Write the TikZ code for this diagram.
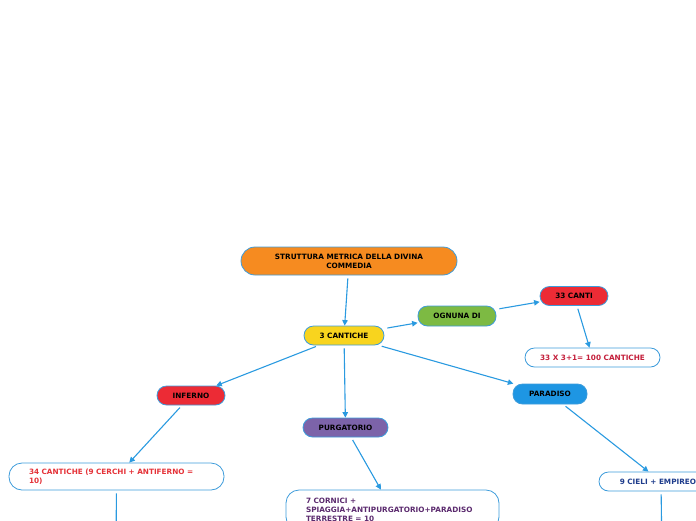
\documentclass[tikz,border=0pt]{standalone}
\usepackage{fontspec}
\setmainfont{DejaVu Sans}
\usetikzlibrary{arrows.meta}

\definecolor{bordoblu}{HTML}{3D9CDB}
\definecolor{lineablu}{HTML}{2A9AE0}
\definecolor{arancio}{HTML}{F68B20}
\definecolor{giallo}{HTML}{F8D41E}
\definecolor{verde}{HTML}{7DBA43}
\definecolor{rosso}{HTML}{EC2B35}
\definecolor{viola}{HTML}{7C63A9}
\definecolor{azzurro}{HTML}{1E96E3}
\definecolor{testocremisi}{HTML}{C41E3A}
\definecolor{testorosso}{HTML}{E53238}
\definecolor{testoviola}{HTML}{5B2A6E}
\definecolor{testoblu}{HTML}{1E3C8C}

\tikzset{
    pill/.style={draw=bordoblu, line width=0.8pt, inner sep=0pt, align=center,
        font=\fontsize{7.3}{9}\selectfont\bfseries, rounded corners=9.5pt,
        minimum height=19pt},
    note/.style={pill, fill=white, rounded corners=13pt},
    link/.style={draw=lineablu, line width=1.1pt, shorten <=3pt,
        -{Triangle[length=5.5pt,width=5.5pt]}},
}

\begin{document}
\begin{tikzpicture}[x=1pt,y=-1pt]
    \useasboundingbox (0,0) rectangle (696,520);
    \clip (0,0) rectangle (696,520);

    \node[pill, fill=arancio, minimum width=216pt, minimum height=28pt, rounded corners=14pt] (titolo) at (349,261) {STRUTTURA METRICA DELLA DIVINA\\COMMEDIA};
    \node[pill, fill=giallo, minimum width=80pt] (cantiche) at (344,335.5) {3 CANTICHE};
    \node[pill, fill=verde, minimum width=78pt, minimum height=20pt] (ognuna) at (457,316) {OGNUNA DI};
    \node[pill, fill=rosso, minimum width=68pt] (canti) at (574,296) {33 CANTI};
    \node[pill, fill=white, minimum width=135pt, text=testocremisi] (cento) at (592.5,357.5) {33 X 3+1= 100 CANTICHE};

    \node[pill, fill=rosso, minimum width=68pt] (inferno) at (191,395.5) {INFERNO};
    \node[pill, fill=viola, minimum width=85pt] (purgatorio) at (345.5,427.5) {PURGATORIO};
    \node[pill, fill=azzurro, minimum width=74pt, minimum height=20pt] (paradiso) at (550,394) {PARADISO};

    \node[note, minimum width=215pt, minimum height=27pt, text width=175pt, align=left, text=testorosso] (cerchi) at (116.5,476.5) {34 CANTICHE (9 CERCHI + ANTIFERNO =\\10)};
    \node[note, minimum width=213pt, minimum height=40pt, text width=173pt, align=left, text=testoviola] (cornici) at (392.5,510) {7 CORNICI +\\SPIAGGIA+ANTIPURGATORIO+PARADISO\\TERRESTRE = 10};
    \node[pill, fill=white, minimum width=124pt, minimum height=19pt, text=testoblu] (cieli) at (661,481.5) {9 CIELI + EMPIREO=};

    \coordinate (sotto inferno) at (116,560);
    \coordinate (sotto paradiso) at (662,560);

    \draw[link] (titolo) -- (cantiche);
    \draw[link] (cantiche) -- (ognuna);
    \draw[link] (ognuna) -- (canti);
    \draw[link] (canti) -- (cento);

    \draw[link] (cantiche) -- (inferno);
    \draw[link] (cantiche) -- (purgatorio);
    \draw[link] (cantiche) -- (paradiso);

    \draw[link] (inferno) -- (cerchi);
    \draw[link] (purgatorio) -- (cornici);
    \draw[link] (paradiso) -- (cieli);

    \draw[link] (cerchi) -- (sotto inferno);
    \draw[link] (cieli) -- (sotto paradiso);
\end{tikzpicture}
\end{document}
